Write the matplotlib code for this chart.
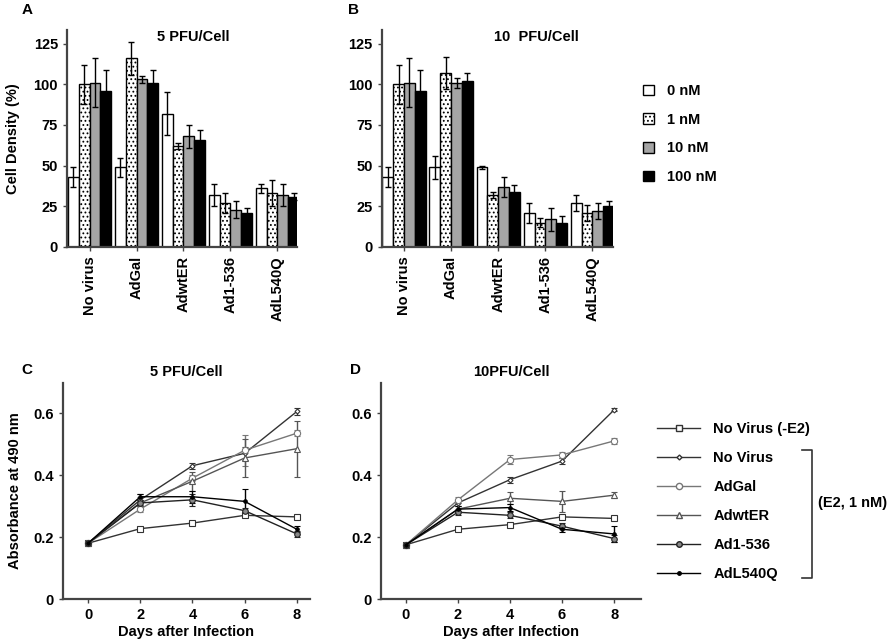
import numpy as np
import matplotlib.pyplot as plt
from matplotlib.lines import Line2D

plt.rcParams['font.family'] = ['Liberation Sans', 'DejaVu Sans']
plt.rcParams['font.weight'] = 'bold'
plt.rcParams['axes.labelweight'] = 'bold'
plt.rcParams['font.size'] = 10.5
plt.rcParams['hatch.linewidth'] = 0.8

# dados dos graficos de barras (A e B)
virus = ['No virus', 'AdGal', 'AdwtER', 'Ad1-536', 'AdL540Q']
doses = ['0 nM', '1 nM', '10 nM', '100 nM']

a_vals = [[43, 49, 82, 32, 36],
          [100, 116, 62, 27, 33],
          [101, 103, 68, 23, 32],
          [96, 101, 66, 21, 31]]
a_err = [[6, 6, 13, 7, 3],
         [12, 10, 2, 6, 8],
         [15, 2, 7, 5, 7],
         [13, 8, 6, 3, 2]]

b_vals = [[43, 49, 49, 21, 27],
          [100, 107, 32, 15, 21],
          [101, 101, 37, 17, 22],
          [96, 102, 34, 15, 25]]
b_err = [[6, 7, 1, 6, 5],
         [12, 10, 2, 3, 5],
         [15, 3, 6, 7, 5],
         [13, 5, 4, 4, 3]]

# dados das curvas (C e D)
dias = [0, 2, 4, 6, 8]
series = ['No Virus (-E2)', 'No Virus', 'AdGal', 'AdwtER', 'Ad1-536', 'AdL540Q']

c_vals = [[0.18, 0.227, 0.245, 0.27, 0.265],
          [0.18, 0.32, 0.43, 0.47, 0.605],
          [0.18, 0.29, 0.39, 0.48, 0.535],
          [0.18, 0.31, 0.38, 0.455, 0.485],
          [0.18, 0.31, 0.32, 0.285, 0.21],
          [0.18, 0.33, 0.33, 0.315, 0.225]]
c_err = [[0, 0, 0, 0, 0],
         [0, 0.02, 0.01, 0.02, 0.01],
         [0, 0.01, 0.01, 0.05, 0.01],
         [0, 0.02, 0.03, 0.06, 0.09],
         [0, 0.01, 0.02, 0.01, 0.01],
         [0, 0.01, 0.02, 0.04, 0.01]]

d_vals = [[0.175, 0.225, 0.24, 0.265, 0.26],
          [0.175, 0.31, 0.385, 0.445, 0.61],
          [0.175, 0.32, 0.45, 0.465, 0.51],
          [0.175, 0.29, 0.325, 0.315, 0.335],
          [0.175, 0.28, 0.27, 0.235, 0.195],
          [0.175, 0.29, 0.295, 0.225, 0.21]]
d_err = [[0, 0, 0, 0, 0],
         [0, 0.01, 0.01, 0.01, 0.005],
         [0, 0.01, 0.015, 0.01, 0.01],
         [0, 0.01, 0.02, 0.035, 0.01],
         [0, 0.01, 0.01, 0.01, 0.01],
         [0, 0.01, 0.01, 0.01, 0.025]]

bar_cores = ['white', 'white', '#a5a5a5', 'black']
bar_hatch = ['', '....', '', '']

estilos = [dict(marker='s', ms=4.5, mfc='white', color='#333333'),
           dict(marker='D', ms=2.5, mfc='white', color='#333333'),
           dict(marker='o', ms=4.5, mfc='white', color='#777777'),
           dict(marker='^', ms=4, mfc='white', color='#555555'),
           dict(marker='o', ms=4, mfc='#888888', color='#222222'),
           dict(marker='o', ms=2.5, mfc='black', color='black')]

fig = plt.figure(figsize=(8.88, 6.43), dpi=100)


def estilo_eixo(ax):
    for s in ['top', 'right']:
        ax.spines[s].set_visible(False)
    for s in ['left', 'bottom']:
        ax.spines[s].set_linewidth(1.6)
        ax.spines[s].set_color('#444444')
    ax.tick_params(direction='out', length=3, width=1, color='#444444')


def barras(ax, vals, errs, titulo, tx):
    x = np.arange(len(virus))
    w = 0.23
    for i in range(4):
        ax.bar(x + (i - 1.5) * w, vals[i], w, yerr=errs[i],
               color=bar_cores[i], hatch=bar_hatch[i], edgecolor='black',
               linewidth=1, label=doses[i],
               error_kw=dict(elinewidth=1, capsize=2.5, capthick=1, ecolor='black'))
    ax.set_ylim(0, 133.5)
    ax.set_yticks([0, 25, 50, 75, 100, 125])
    ax.set_xticks(x)
    ax.set_xticklabels(virus, rotation=90)
    estilo_eixo(ax)
    ax.text(tx, 0.965, titulo, transform=ax.transAxes, ha='center', va='center')


axA = fig.add_axes([0.0755, 0.616, 0.259, 0.3375])
barras(axA, a_vals, a_err, '5 PFU/Cell', 0.55)
axA.set_xlim(-0.48, 4.42)
axA.set_ylabel('Cell Density (%)', labelpad=10)

axB = fig.add_axes([0.430, 0.616, 0.260, 0.3375])
barras(axB, b_vals, b_err, '10  PFU/Cell', 0.67)
axB.set_xlim(-0.47, 4.43)

h, l = axB.get_legend_handles_labels()
fig.legend(h, l, loc='upper left', bbox_to_anchor=(0.724, 0.869), frameon=False,
           handlelength=0.75, handleheight=0.75, handletextpad=0.9,
           labelspacing=1.0, borderpad=0, borderaxespad=0)


def curvas(ax, vals, errs, titulo):
    for i in range(len(series)):
        ax.errorbar(dias, vals[i], yerr=errs[i], lw=1, capsize=2.5, elinewidth=1,
                    mew=0.8, label=series[i], **estilos[i])
    ax.set_ylim(0, 0.697)
    ax.set_yticks([0, 0.2, 0.4, 0.6])
    ax.set_yticklabels(['0', '0.2', '0.4', '0.6'])
    ax.set_xticks(dias)
    ax.set_xlabel('Days after Infection', labelpad=2)
    estilo_eixo(ax)
    ax.text(0.5, 1.02, titulo, transform=ax.transAxes, ha='center', va='bottom')


axC = fig.add_axes([0.071, 0.0684, 0.278, 0.336])
curvas(axC, c_vals, c_err, '5 PFU/Cell')
axC.set_xlim(-0.96, 8.5)
axC.set_ylabel('Absorbance at 490 nm', labelpad=8)

axD = fig.add_axes([0.429, 0.0684, 0.293, 0.336])
curvas(axD, d_vals, d_err, '10PFU/Cell')
axD.set_xlim(-0.96, 9.04)

h, l = axD.get_legend_handles_labels()
h = [Line2D([], [], lw=1, **estilos[i]) for i in range(len(series))]
fig.legend(h, l, loc='upper left', bbox_to_anchor=(0.74, 0.344), frameon=False,
           handlelength=2.95, handletextpad=0.9, labelspacing=1.03,
           borderpad=0, borderaxespad=0)

# colchete do E2
fig.add_artist(Line2D([0.903, 0.914, 0.914, 0.903],
                      [1 - 450 / 643, 1 - 450 / 643, 1 - 578 / 643, 1 - 578 / 643],
                      color='#333333', lw=1.2))
fig.text(0.921, 1 - 503 / 643, '(E2, 1 nM)', va='center', ha='left')

for letra, x, y in [('A', 0.024, 0.995), ('B', 0.392, 0.995),
                    ('C', 0.024, 0.435), ('D', 0.394, 0.435)]:
    fig.text(x, y, letra, fontsize=11, va='top')

plt.savefig('out.png', dpi=100)
